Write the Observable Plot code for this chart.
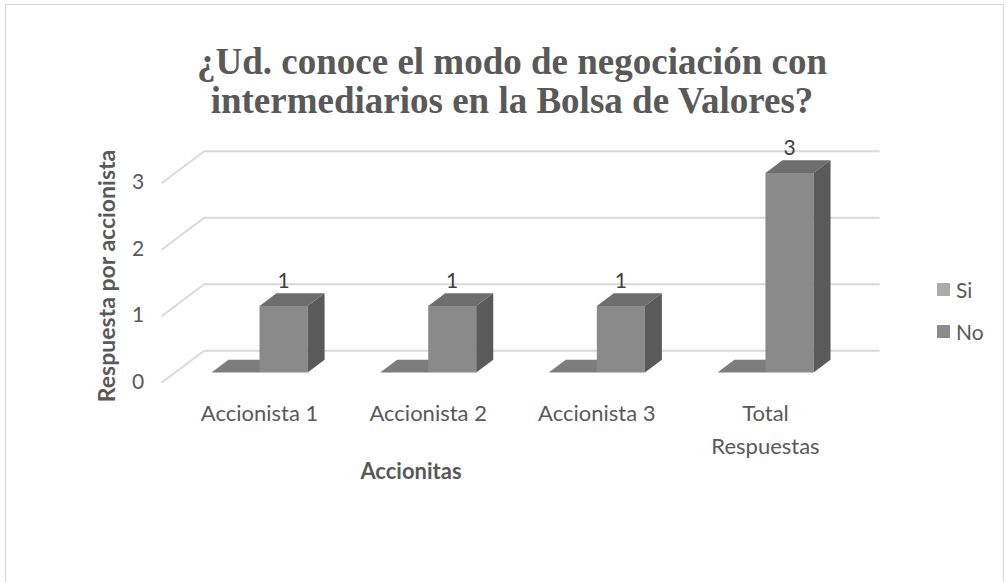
<!DOCTYPE html>
<html>
<head>
<meta charset="utf-8">
<script src="https://cdn.jsdelivr.net/npm/d3@7"></script>
<script src="https://cdn.jsdelivr.net/npm/@observablehq/plot@0.6"></script>
<style>
  body { margin: 0; background: #fff; }
  #wrap { position: relative; width: 1008px; height: 582px; overflow: hidden; background: #fff; }
  #frame { position: absolute; left: 5px; top: 4px; width: 997px; height: 640px; border: 1px solid #d9d9d9; }
  #title { position: absolute; left: 0; top: 42px; width: 1024px; text-align: center;
           font-family: "Liberation Serif", serif; font-weight: bold; font-size: 37px; line-height: 39px; color: #595959; }
  #chart { position: absolute; left: 0; top: 0; }
  .axtitle { position: absolute; font-family: Lato, sans-serif; font-weight: bold; font-size: 23px; color: #595959; white-space: nowrap; }
  #ytitle { left: -44px; top: 263px; width: 300px; text-align: center; transform: rotate(-90deg); line-height: 26px; }
  #xtitle { left: 261px; top: 458px; width: 300px; text-align: center; line-height: 26px; font-size: 22px; }
  #legend { position: absolute; left: 937px; top: 276px; font-family: Lato, sans-serif; font-size: 21px; color: #595959; }
  .item { display: flex; align-items: center; height: 26px; margin-bottom: 16px; }
  .sw { width: 13px; height: 13px; margin-right: 6px; }
</style>
</head>
<body>
<div id="wrap">
  <div id="frame"></div>
  <div id="title">¿Ud. conoce el modo de negociación con<br>intermediarios en la Bolsa de Valores?</div>
  <div id="chart"></div>
  <div id="ytitle" class="axtitle">Respuesta por accionista</div>
  <div id="xtitle" class="axtitle">Accionitas</div>
  <div id="legend"></div>
</div>
<script>
// ---- data ----
const categories = ["Accionista 1", "Accionista 2", "Accionista 3", "Total\nRespuestas"];
const seriesNames = ["Si", "No"];
const siValues = [0, 0, 0, 0];
const noValues = [1, 1, 1, 3];
const yTicks = [0, 1, 2, 3];
const dataLabels = ["1", "1", "1", "3"];

// ---- styling / geometry ----
const W = 1008, H = 582;
const mL = 174.7, mR = 158.7, mT = 172.5, mB = 210;
const xDomain = [-0.5, categories.length - 0.5];
const yDomain = [0, 3];
const ux = (W - mL - mR) / (xDomain[1] - xDomain[0]);   // px per category
const uy = (H - mT - mB) / (yDomain[1] - yDomain[0]);   // px per value
const slope = 0.75;
const off = k => [k / ux, slope * k / uy];               // oblique depth offset in data units
const [fx, fy] = off(-13);   // front of floor
const [bx, by] = off(17);    // back of bar
const [wx, wy] = off(29);    // back wall
const barW = 0.285;

const colors = {
  Si: {front: "#a5a5a5", top: "#7d7d7d", side: "#666666", legend: "#ababab"},
  No: {front: "#8a8a8a", top: "#6e6e6e", side: "#5a5a5a", legend: "#8b8b8b"}
};

// gridlines: front-left diagonal then along back wall
const grid = yTicks.flatMap(v => [
  {g: v, x: xDomain[0] + fx, y: v + fy},
  {g: v, x: xDomain[0] + wx, y: v + wy},
  {g: v, x: xDomain[1] + wx, y: v + wy}
]);

// bar faces
const values = {Si: siValues, No: noValues};
function faces(name, j) {
  const front = [], top = [], side = [];
  categories.forEach((c, i) => {
    const v = values[name][i];
    const x1 = i + (j - 1) * barW, x2 = x1 + barW;
    const id = name + i;
    [[x1, 0], [x2, 0], [x2, v], [x1, v]].forEach(([x, y]) => front.push({id, x, y}));
    [[x1, v], [x2, v], [x2 + bx, v + by], [x1 + bx, v + by]].forEach(([x, y]) => top.push({id, x, y}));
    [[x2, 0], [x2 + bx, by], [x2 + bx, v + by], [x2, v]].forEach(([x, y]) => side.push({id, x, y}));
  });
  return {front, top, side};
}
const poly = (d, fill) => Plot.line(d, {x: "x", y: "y", z: "id", fill, stroke: "none", curve: "linear-closed"});

const marks = [
  Plot.line(grid, {x: "x", y: "y", z: "g", stroke: "#d9d9d9", strokeWidth: 2})
];
seriesNames.forEach((name, j) => {
  const f = faces(name, j);
  marks.push(poly(f.top, colors[name].top), poly(f.front, colors[name].front), poly(f.side, colors[name].side));
});

// y tick labels
marks.push(Plot.text(yTicks, {x: () => xDomain[0] + fx, y: d => d + fy, text: d => String(d),
  textAnchor: "end", dx: -18, fill: "#595959", fontSize: 21}));
// x tick labels
marks.push(Plot.text(categories, {x: (d, i) => i, y: () => 0, text: d => d,
  lineAnchor: "top", dy: 25, lineHeight: 1.5, fill: "#595959", fontSize: 22}));
// data labels (No series)
marks.push(Plot.text(noValues, {x: (d, i) => i + barW / 2, y: d => d, text: (d, i) => dataLabels[i],
  dy: -25, fill: "#404040", fontSize: 21}));

const chart = Plot.plot({
  width: W, height: H,
  marginLeft: mL, marginRight: mR, marginTop: mT, marginBottom: mB,
  x: {domain: xDomain, axis: null},
  y: {domain: yDomain, axis: null},
  style: {fontFamily: "Lato, sans-serif", background: "transparent", overflow: "visible"},
  marks
});
document.getElementById("chart").appendChild(chart);

// legend
const legend = document.getElementById("legend");
seriesNames.forEach(name => {
  const item = document.createElement("div");
  item.className = "item";
  item.innerHTML = `<span class="sw" style="background:${colors[name].legend}"></span><span>${name}</span>`;
  legend.appendChild(item);
});
</script>
</body>
</html>
